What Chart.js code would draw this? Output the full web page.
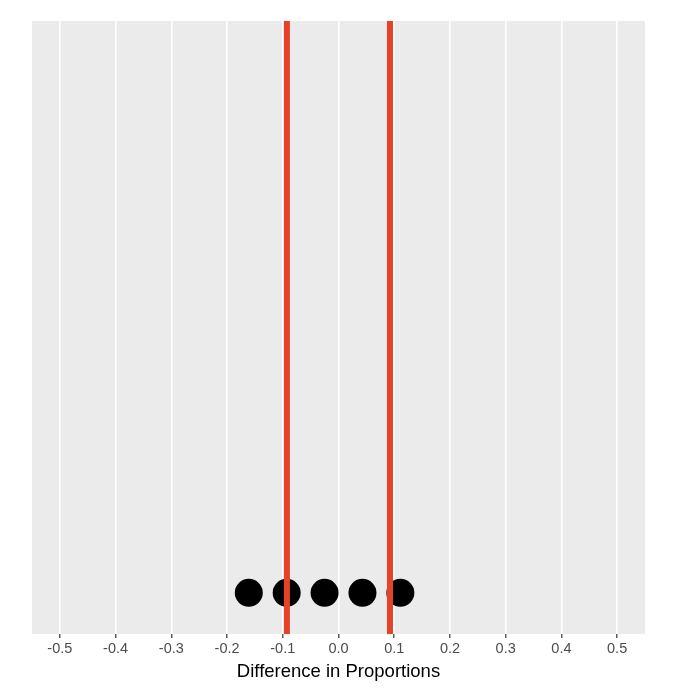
<!DOCTYPE html>
<html lang="en">
<head>
    <meta charset="UTF-8">
    <title>Difference in Proportions</title>
    <style>
        html, body { margin: 0; padding: 0; background: #fff; }
        #chart { display: block; }
    </style>
</head>
<body>
<canvas id="chart" width="675" height="700"></canvas>

<script src="https://cdn.jsdelivr.net/npm/chart.js"></script>
<script>
// simulated differences (one dot each) and the two cut-off lines
const diffs = [-0.161, -0.093, -0.025, 0.043, 0.111];
const cutoffs = [-0.0926, 0.0924];

const tickValues = [-0.5, -0.4, -0.3, -0.2, -0.1, 0.0, 0.1, 0.2, 0.3, 0.4, 0.5];
const tickLabels = ['-0.5', '-0.4', '-0.3', '-0.2', '-0.1', '0.0', '0.1', '0.2', '0.3', '0.4', '0.5'];

const xMin = -0.55, xMax = 0.55;
const yMin = -0.072, yMax = 1.0;

// grey panel behind the plot, ggplot style
const panelBg = {
    id: 'panelBg',
    beforeDraw(chart) {
        const a = chart.chartArea;
        const ctx = chart.ctx;
        ctx.save();
        ctx.fillStyle = '#EBEBEB';
        ctx.fillRect(a.left, a.top, a.right - a.left, a.bottom - a.top);
        ctx.restore();
    }
};

const datasets = cutoffs.map(c => ({
    type: 'line',
    data: [{ x: c, y: yMin }, { x: c, y: yMax }],
    borderColor: '#E8412A',
    borderWidth: 6,
    pointRadius: 0,
    order: 0
}));

datasets.push({
    type: 'scatter',
    data: diffs.map(d => ({ x: d, y: 0 })),
    backgroundColor: '#000000',
    borderWidth: 0,
    pointRadius: 14,
    pointHoverRadius: 14,
    order: 1
});

new Chart(document.getElementById('chart').getContext('2d'), {
    type: 'scatter',
    data: { datasets: datasets },
    plugins: [panelBg],
    options: {
        responsive: false,
        animation: false,
        layout: { padding: { left: 32, right: 30, top: 21, bottom: 0 } },
        plugins: {
            legend: { display: false },
            tooltip: { enabled: false }
        },
        scales: {
            x: {
                type: 'linear',
                min: xMin,
                max: xMax,
                afterBuildTicks: scale => {
                    scale.ticks = tickValues.map(v => ({ value: v }));
                },
                afterFit: scale => { scale.height = 66; },
                grid: {
                    color: '#FFFFFF',
                    lineWidth: 1.6,
                    drawTicks: true,
                    tickLength: 4,
                    tickColor: '#333333',
                    tickWidth: 1.2
                },
                border: { display: false },
                ticks: {
                    padding: 2,
                    color: '#4D4D4D',
                    font: { family: 'Liberation Sans', size: 14.5 },
                    maxRotation: 0,
                    autoSkip: false,
                    callback: (v, i) => tickLabels[i]
                },
                title: {
                    display: true,
                    text: 'Difference in Proportions',
                    color: '#000000',
                    font: { family: 'Liberation Sans', size: 18.5 },
                    padding: { top: 4, bottom: 17 }
                }
            },
            y: {
                display: false,
                min: yMin,
                max: yMax
            }
        }
    }
});
</script>
</body>
</html>
